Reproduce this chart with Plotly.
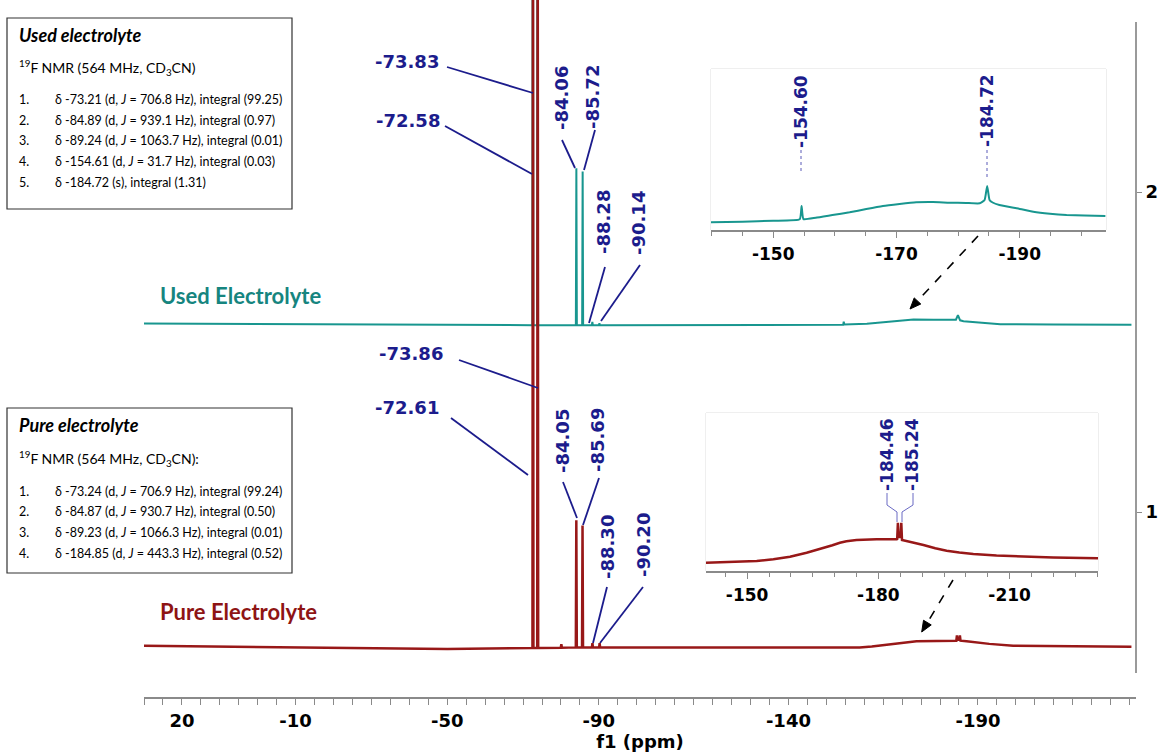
import plotly.graph_objects as go

# ---------------- spectra (19F NMR, stacked) ----------------
# stacking offsets of the two traces on the intensity scale
USED_OFFSET = 1.584
PURE_OFFSET = 0.577

# used electrolyte: chemical shift (ppm) and intensity above its baseline
used_ppm = [30.0, 0.0, -30.0, -60.0, -72.30, -72.45, -72.58, -72.71, -73.70, -73.83, -73.96,
            -78.0, -83.93, -84.06, -84.19, -85.59, -85.72, -85.85, -88.15, -88.28, -88.41,
            -90.01, -90.14, -90.27, -120.0, -154.45, -154.60, -154.75, -160.7, -163.8, -166.8,
            -170.0, -173.0, -178.2, -184.2, -184.72, -185.3, -186.2, -188.4, -190.6, -195.9,
            -210.0, -230.5]
used_int = [0.005, 0.004, 0.002, 0.001, 0.0, 0.0, 2.2, 0.0, 0.0, 2.2, 0.0,
            0.0, 0.0, 0.49, 0.0, 0.0, 0.48, 0.0, 0.0, 0.010, 0.0,
            0.0, 0.006, 0.0, 0.0, 0.001, 0.011, 0.002, 0.004, 0.007, 0.010,
            0.015, 0.018, 0.017, 0.017, 0.031, 0.015, 0.0125, 0.010, 0.007, 0.003,
            0.002, 0.001]

# pure electrolyte
pure_ppm = [30.0, 0.0, -30.0, -50.0, -72.30, -72.48, -72.61, -72.74, -73.73, -73.86, -73.99,
            -79.95, -80.10, -80.25, -83.92, -84.05, -84.18, -85.56, -85.69, -85.82,
            -88.17, -88.30, -88.43, -90.07, -90.20, -90.33, -130.0, -158.8, -162.0, -165.0,
            -169.5, -173.8, -184.3, -184.46, -184.6, -185.1, -185.24, -185.4, -187.0, -190.0,
            -193.0, -199.3, -215.0, -230.5]
pure_int = [0.005, 0.002, -0.002, -0.005, -0.002, -0.002, 2.5, -0.002, -0.002, 2.5, -0.002,
            -0.001, 0.010, -0.001, 0.0, 0.397, 0.0, 0.0, 0.381, 0.0,
            0.0, 0.013, 0.0, 0.0, 0.013, 0.0, 0.0, 0.0, 0.003, 0.007,
            0.014, 0.019, 0.021, 0.0375, 0.024, 0.024, 0.0375, 0.021, 0.019, 0.015,
            0.011, 0.005, 0.003, 0.002]

# expansions of the -140 ... -230 ppm region
inset_used_ppm = [-139.9, -145.0, -150.0, -154.3, -154.6, -154.9, -156.9, -159.6, -162.4, -165.1,
                  -167.8, -170.5, -173.2, -175.9, -178.6, -181.3, -183.5, -184.3, -184.72,
                  -185.1, -185.6, -186.7, -189.5, -192.2, -194.9, -197.6, -200.5, -203.9]
inset_used_int = [7.7, 8.3, 9.3, 10.7, 24.0, 10.9, 12.3, 15.0, 17.7, 21.0,
                  24.0, 26.0, 27.7, 28.0, 27.3, 27.0, 26.7, 30.0, 44.0,
                  30.0, 27.5, 25.0, 21.7, 18.3, 16.3, 15.0, 14.4, 14.0]

inset_pure_ppm = [-140.6, -146.1, -152.2, -156.0, -159.8, -163.6, -167.4, -169.5, -171.2, -172.7,
                  -175.0, -177.3, -179.6, -184.2, -184.3, -184.46, -184.62, -185.08, -185.24,
                  -185.4, -186.1, -188.2, -190.3, -193.0, -195.6, -198.5, -201.7, -207.0,
                  -213.1, -220.0, -230.2]
inset_pure_int = [8.3, 9.0, 10.0, 11.7, 14.3, 18.3, 22.7, 25.8, 28.3, 29.7,
                  31.0, 31.5, 31.7, 31.7, 32.0, 48.3, 34.0, 34.0, 48.3,
                  31.0, 30.3, 28.3, 26.0, 22.7, 20.3, 18.5, 17.0, 15.5,
                  14.3, 13.4, 12.7]

# axis ticks
x_tickvals = [20, -10, -50, -90, -140, -190]
inset_used_ticks = [-150, -170, -190]
inset_pure_ticks = [-150, -180, -210]
y_tickvals = [1, 2]

# peak labels
used_labels = ["-73.83", "-72.58", "-84.06", "-85.72", "-88.28", "-90.14"]
pure_labels = ["-73.86", "-72.61", "-84.05", "-85.69", "-88.30", "-90.20"]
inset_used_labels = ["-154.60", "-184.72"]
inset_pure_labels = ["-184.46", "-185.24"]

used_notes = [
    ("1.", "δ -73.21 (d, <i>J</i> = 706.8 Hz), integral (99.25)"),
    ("2.", "δ -84.89 (d, <i>J</i> = 939.1 Hz), integral (0.97)"),
    ("3.", "δ -89.24 (d, <i>J</i> = 1063.7 Hz), integral (0.01)"),
    ("4.", "δ -154.61 (d, <i>J</i> = 31.7 Hz), integral (0.03)"),
    ("5.", "δ -184.72 (s), integral (1.31)"),
]
pure_notes = [
    ("1.", "δ -73.24 (d, <i>J</i> = 706.9 Hz), integral (99.24)"),
    ("2.", "δ -84.87 (d, <i>J</i> = 930.7 Hz), integral (0.50)"),
    ("3.", "δ -89.23 (d, <i>J</i> = 1066.3 Hz), integral (0.01)"),
    ("4.", "δ -184.85 (d, <i>J</i> = 443.3 Hz), integral (0.52)"),
]

# ---------------- styling ----------------
TEAL = "#18968f"
TEAL_TEXT = "#16857f"
RED = "#981818"
RED_TEXT = "#8e1414"
NAVY = "#1c1c8c"
AXIS_GREY = "#8a8a8a"
TEXT_FONT = "Lato"
AXIS_FONT = "DejaVu Sans"

W, H = 1159, 755
L, R, T, B = 144, 1136, 0, 697
X_RANGE = [30.0, -231.7]
Y_RANGE = [0.422, 2.6]


def pap_x(px):
    return (px - L) / (R - L)


def pap_y(py):
    return (B - py) / (B - T)


def data_x(px):
    return X_RANGE[0] + (px - L) / (R - L) * (X_RANGE[1] - X_RANGE[0])


def data_y(py):
    return Y_RANGE[1] - (py - T) / (B - T) * (Y_RANGE[1] - Y_RANGE[0])


fig = go.Figure()

fig.add_trace(go.Scatter(x=used_ppm, y=[USED_OFFSET + v for v in used_int], mode="lines",
                         line=dict(color=TEAL, width=2), hoverinfo="skip", showlegend=False))
fig.add_trace(go.Scatter(x=pure_ppm, y=[PURE_OFFSET + v for v in pure_int], mode="lines",
                         line=dict(color=RED, width=2.5), hoverinfo="skip", showlegend=False))
fig.add_trace(go.Scatter(x=inset_used_ppm, y=inset_used_int, mode="lines", xaxis="x2", yaxis="y2",
                         line=dict(color=TEAL, width=2, shape="spline", smoothing=0.4),
                         hoverinfo="skip", showlegend=False))
fig.add_trace(go.Scatter(x=inset_pure_ppm, y=inset_pure_int, mode="lines", xaxis="x3", yaxis="y3",
                         line=dict(color=RED, width=2.5), hoverinfo="skip", showlegend=False))

tick_font = dict(family=AXIS_FONT, size=18, color="black", weight="bold")
inset_font = dict(family=AXIS_FONT, size=17, color="black", weight="bold")


def inset_axis(domain, rng, labelled, anchor):
    return dict(domain=domain, anchor=anchor, range=rng, tickmode="array", tickvals=labelled,
                ticktext=[str(v) for v in labelled],
                ticks="outside", ticklen=6, tickcolor=AXIS_GREY, showline=True,
                linecolor=AXIS_GREY, linewidth=1.5, showgrid=False, zeroline=False,
                tickfont=inset_font, ticklabelstandoff=2,
                minor=dict(tickmode="linear", tick0=0, dtick=5, ticks="outside", ticklen=4,
                           tickcolor=AXIS_GREY))


fig.update_layout(
    width=W, height=H, margin=dict(l=L, r=W - R, t=T, b=H - B),
    paper_bgcolor="white", plot_bgcolor="white", showlegend=False,
    xaxis=dict(range=X_RANGE, tickmode="array", tickvals=x_tickvals,
               ticktext=[str(v) for v in x_tickvals], ticks="outside", ticklen=6,
               tickcolor=AXIS_GREY, showline=True, linecolor=AXIS_GREY, linewidth=1.5,
               showgrid=False, zeroline=False, tickfont=tick_font, ticklabelstandoff=1,
               title=dict(text="f1 (ppm)", font=tick_font, standoff=2),
               minor=dict(tickmode="linear", tick0=0, dtick=5, ticks="outside", ticklen=6,
                          tickcolor=AXIS_GREY)),
    yaxis=dict(range=Y_RANGE, side="right", tickmode="array", tickvals=y_tickvals,
               ticktext=[str(v) for v in y_tickvals], ticks="outside", ticklen=5,
               tickcolor=AXIS_GREY, showline=False, showgrid=False, zeroline=False,
               tickfont=tick_font),
    xaxis2=inset_axis([pap_x(711), pap_x(1106)], [-139.9, -204.0], inset_used_ticks, "y2"),
    yaxis2=dict(domain=[pap_y(230), pap_y(69)], anchor="x2", range=[0, 161], visible=False),
    xaxis3=inset_axis([pap_x(706), pap_x(1098)], [-140.6, -230.2], inset_pure_ticks, "y3"),
    yaxis3=dict(domain=[pap_y(571), pap_y(413)], anchor="x3", range=[0, 158], visible=False),
)

shapes = []
annotations = []

# right-hand intensity axis line
shapes.append(dict(type="line", xref="paper", yref="y", x0=1.0, x1=1.0,
                   y0=data_y(22), y1=data_y(673), line=dict(color="#9a9a9a", width=2)))

# inset frames
for ax, yax in (("x2", "y2"), ("x3", "y3")):
    shapes.append(dict(type="rect", xref=f"{ax} domain", yref=f"{yax} domain", x0=0, x1=1,
                       y0=0, y1=1, line=dict(color="#dedede", width=1), layer="below"))

# information boxes
for top, bottom in ((18, 209), (408, 573)):
    shapes.append(dict(type="rect", xref="paper", yref="paper", x0=pap_x(7), x1=pap_x(292),
                       y0=pap_y(bottom), y1=pap_y(top), line=dict(color="#333333", width=1.2),
                       fillcolor="white", layer="above"))


def text(t, x, y, size, color, angle=0, xanchor="center", family=TEXT_FONT, weight="bold",
         style="normal"):
    annotations.append(dict(text=t, x=pap_x(x), y=pap_y(y), xref="paper", yref="paper",
                            showarrow=False, textangle=angle, xanchor=xanchor, yanchor="middle",
                            font=dict(family=family, size=size, color=color, weight=weight,
                                      style=style)))


def leader(x0, y0, x1, y1, color=NAVY, width=1.8, dash="solid"):
    shapes.append(dict(type="line", xref="x", yref="y", x0=data_x(x0), y0=data_y(y0),
                       x1=data_x(x1), y1=data_y(y1), line=dict(color=color, width=width, dash=dash)))


def peak_label(t, x, y, angle=0, size=18):
    text(t, x, y, size, NAVY, angle=angle, family=AXIS_FONT)


# spectrum names
text("Used Electrolyte", 158, 295, 22, TEAL_TEXT, xanchor="left")
text("Pure Electrolyte", 158, 611, 22, RED_TEXT, xanchor="left")

# peak labels, used electrolyte
peak_label(used_labels[0], 407, 61)
peak_label(used_labels[1], 408, 121)
peak_label(used_labels[2], 561, 98, angle=-90)
peak_label(used_labels[3], 592, 97, angle=-90)
peak_label(used_labels[4], 604, 222, angle=-90)
peak_label(used_labels[5], 638, 223, angle=-90)
leader(447, 67, 533, 93)
leader(445, 126, 532, 174)
leader(562, 140, 575, 168)
leader(595, 130, 584, 170)
leader(605, 267, 589, 323)
leader(640, 265, 601, 321)

# peak labels, pure electrolyte
peak_label(pure_labels[0], 411, 353)
peak_label(pure_labels[1], 407, 407)
peak_label(pure_labels[2], 562, 441, angle=-90)
peak_label(pure_labels[3], 597, 440, angle=-90)
peak_label(pure_labels[4], 607, 547, angle=-90)
peak_label(pure_labels[5], 643, 545, angle=-90)
leader(459, 360, 538, 388)
leader(451, 418, 528, 475)
leader(563, 482, 577, 518)
leader(599, 478, 583, 525)
leader(607, 587, 593, 643)
leader(643, 587, 600, 643)

# inset labels
peak_label(inset_used_labels[0], 801, 112, angle=-90, size=17)
peak_label(inset_used_labels[1], 987, 111, angle=-90, size=17)
leader(801, 150, 801, 172, color="#5a5ab8", width=1, dash="dot")
leader(987, 150, 987, 178, color="#5a5ab8", width=1, dash="dot")
peak_label(inset_pure_labels[0], 887, 455, angle=-90, size=17)
peak_label(inset_pure_labels[1], 912, 455, angle=-90, size=17)
for pts in (((887, 493), (887, 505), (897, 512), (897, 522)),
            ((913, 493), (913, 505), (902, 512), (902, 522))):
    for a, b in zip(pts[:-1], pts[1:]):
        leader(a[0], a[1], b[0], b[1], color="#6a6ac4", width=1)


# dashed arrows from the expansions down to the spectrum region
def dashed_arrow(tail, head, head_len=11.0, half_w=4.5):
    dx, dy = head[0] - tail[0], head[1] - tail[1]
    n = (dx * dx + dy * dy) ** 0.5
    ux, uy = dx / n, dy / n
    bx, by = head[0] - head_len * ux, head[1] - head_len * uy
    shapes.append(dict(type="line", xref="paper", yref="paper", x0=pap_x(tail[0]),
                       y0=pap_y(tail[1]), x1=pap_x(bx), y1=pap_y(by),
                       line=dict(color="black", width=1.6, dash="dash")))
    c1 = (bx - half_w * uy, by + half_w * ux)
    c2 = (bx + half_w * uy, by - half_w * ux)
    path = "M {} {} L {} {} L {} {} Z".format(pap_x(head[0]), pap_y(head[1]),
                                             pap_x(c1[0]), pap_y(c1[1]),
                                             pap_x(c2[0]), pap_y(c2[1]))
    shapes.append(dict(type="path", xref="paper", yref="paper", path=path,
                       fillcolor="black", line=dict(color="black", width=1)))


dashed_arrow((978, 236), (910, 309))
dashed_arrow((953, 580), (921.7, 632))

# text boxes with the peak lists
text("<i>Used electrolyte</i>", 17, 35, 18, "black", xanchor="left")
text("<sup>19</sup>F NMR (564 MHz, CD<sub>3</sub>CN)", 17, 68, 14, "black", xanchor="left",
     weight="normal")
for i, (num, line) in enumerate(used_notes):
    y = 100 + i * 20.5
    text(num, 17, y, 12.5, "black", xanchor="left", weight="normal")
    text(line, 53, y, 12.5, "black", xanchor="left", weight="normal")

text("<i>Pure electrolyte</i>", 17, 425, 18, "black", xanchor="left")
text("<sup>19</sup>F NMR (564 MHz, CD<sub>3</sub>CN):", 17, 458, 14, "black", xanchor="left",
     weight="normal")
for i, (num, line) in enumerate(pure_notes):
    y = 491 + i * 20.7
    text(num, 17, y, 12.5, "black", xanchor="left", weight="normal")
    text(line, 53, y, 12.5, "black", xanchor="left", weight="normal")

fig.update_layout(shapes=shapes, annotations=annotations)
fig.write_html("out.html")
